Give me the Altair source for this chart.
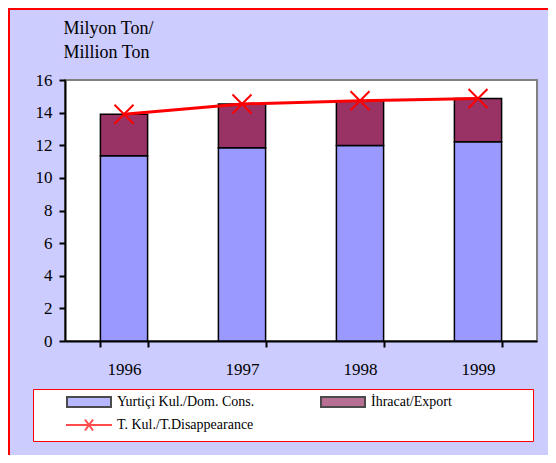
import altair as alt
import pandas as pd

years = ["1996", "1997", "1998", "1999"]
dom_cons = [11.35, 11.84, 11.98, 12.22]
export = [2.55, 2.69, 2.75, 2.65]
total = [13.90, 14.53, 14.73, 14.87]

S1 = "Yurtiçi Kul./Dom. Cons."
S2 = "İhracat/Export"
S3 = "T. Kul./T.Disappearance"
series = [S1, S2, S3]
y_ticks = [0, 2, 4, 6, 8, 10, 12, 14, 16]

rows = []
for i, yr in enumerate(years):
    rows.append({"year": yr, "series": S1, "value": dom_cons[i], "ord": 0})
    rows.append({"year": yr, "series": S2, "value": export[i], "ord": 1})
bars_df = pd.DataFrame(rows)
line_df = pd.DataFrame({"year": years, "value": total, "series": [S3] * len(years)})
frame_df = pd.DataFrame({"k": [0]})

FONT = "Liberation Serif, DejaVu Serif, serif"

rect_path = "M4.2,-1H13V1H4.2Z"
line_path = "M4,0H13.2M7.8,-1.1L9.4,1.1M7.8,1.1L9.4,-1.1"
x_path = "M-1,-1L1,1M-1,1L1,-1"

color_scale = alt.Scale(domain=series, range=["#9999FF", "#993366", "#FF0000"])
stroke_scale = alt.Scale(domain=series, range=["#000000", "#000000", "#FF0000"])
shape_scale = alt.Scale(domain=series, range=[rect_path, rect_path, line_path])

legend = alt.Legend(
    title="\u00a0",
    titleOrient="right",
    titlePadding=75,
    titleFontSize=14,
    titleColor="#FFFFFF",
    orient="none",
    direction="horizontal",
    legendX=-32,
    legendY=309,
    columns=2,
    fillColor="#FFFFFF",
    strokeColor="#FF0000",
    padding=6,
    labelFont=FONT,
    labelFontSize=14,
    labelColor="#000000",
    labelOffset=64,
    labelLimit=400,
    columnPadding=38,
    rowPadding=4,
    symbolSize=100,
    symbolStrokeWidth=2,
)

x_axis = alt.Axis(
    title=None,
    labelAngle=0,
    labelFont=FONT,
    labelFontSize=17,
    labelColor="#000000",
    labelPadding=14,
    tickBand="extent",
    tickSize=6,
    tickWidth=2,
    tickColor="#000000",
    domainColor="#000000",
    domainWidth=2,
)

y_axis = alt.Axis(
    title=["Milyon Ton/", "Million Ton"],
    titleAngle=0,
    titleAlign="left",
    titleBaseline="alphabetic",
    titleX=-2,
    titleY=-47,
    titleFont=FONT,
    titleFontSize=18,
    titleFontWeight="normal",
    titleColor="#000000",
    titleLineHeight=24,
    values=y_ticks,
    tickCount=9,
    labelOverlap=False,
    grid=False,
    labelFont=FONT,
    labelFontSize=17,
    labelColor="#000000",
    labelPadding=7,
    tickSize=6,
    tickWidth=2,
    tickColor="#000000",
    domainColor="#000000",
    domainWidth=2,
)

x_scale = alt.Scale(paddingInner=0.6, paddingOuter=0.3)
y_scale = alt.Scale(domain=[0, 16], nice=False)

x_enc = alt.X("year:N", sort=years, scale=x_scale, axis=x_axis)

bars = alt.Chart(bars_df).mark_bar(strokeWidth=1.5).encode(
    x=x_enc,
    y=alt.Y("value:Q", stack="zero", scale=y_scale, axis=y_axis),
    color=alt.Color("series:N", scale=color_scale, legend=legend),
    stroke=alt.Stroke("series:N", scale=stroke_scale, legend=legend),
    order=alt.Order("ord:Q"),
)

legend_pts = alt.Chart(bars_df).mark_point(filled=True).encode(
    x=x_enc,
    y=alt.Y("value:Q", stack=None, scale=y_scale, axis=y_axis),
    color=alt.Color("series:N", scale=color_scale, legend=legend),
    stroke=alt.Stroke("series:N", scale=stroke_scale, legend=legend),
    shape=alt.Shape("series:N", scale=shape_scale, legend=legend),
).transform_filter("datum.value < 0")

line = alt.Chart(line_df).mark_line(strokeWidth=3).encode(
    x=x_enc,
    y=alt.Y("value:Q", stack=None, scale=y_scale, axis=y_axis),
    color=alt.Color("series:N", scale=color_scale, legend=legend),
    stroke=alt.Stroke("series:N", scale=stroke_scale, legend=legend),
)

markers = alt.Chart(line_df).mark_point(
    shape=x_path, size=361, filled=False, stroke="#FF0000", strokeWidth=2, opacity=1
).encode(
    x=x_enc,
    y=alt.Y("value:Q", stack=None, scale=y_scale, axis=y_axis),
)

# decorative outer frame (top and left edges of the chart area)
frame_top = alt.Chart(frame_df).mark_rule(color="#FF0000", strokeWidth=2).encode(
    x=alt.value(-57), x2=alt.value(483), y=alt.value(-71)
)
frame_left = alt.Chart(frame_df).mark_rule(color="#FF0000", strokeWidth=2).encode(
    x=alt.value(-56), y=alt.value(-72), y2=alt.value(375)
)

chart = (
    alt.layer(bars, legend_pts, line, markers, frame_top, frame_left)
    .properties(
        width=472,
        height=261,
        background="#CCCCFF",
        padding={"left": 57, "top": 72, "right": 11, "bottom": 114},
        autosize=alt.AutoSizeParams(type="none"),
    )
    .configure(font=FONT)
    .configure_view(fill="#FFFFFF", stroke="#808080", strokeWidth=2)
)

chart.save("out.html", embed_options={"renderer": "svg", "actions": False})
